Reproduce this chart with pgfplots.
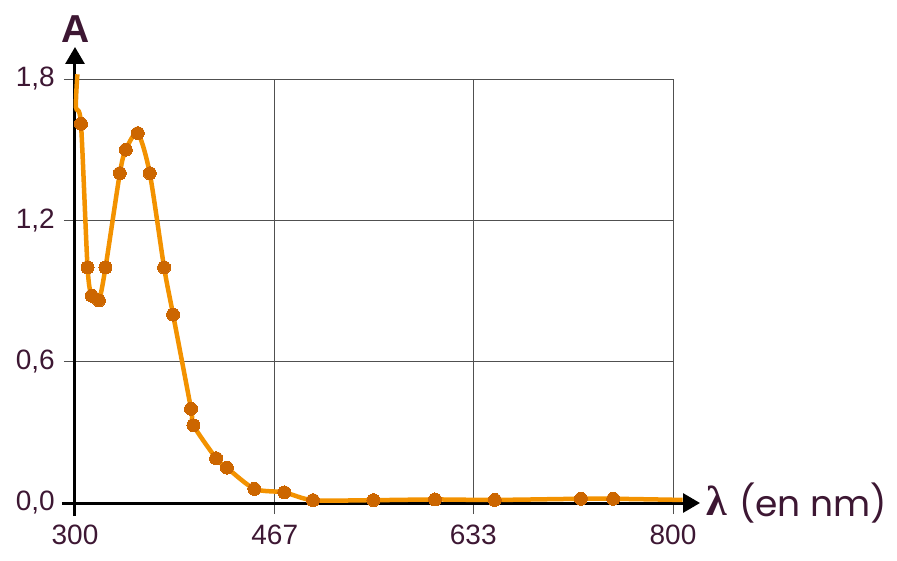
\documentclass[border=0pt]{standalone}
\usepackage{pgfplots}
\pgfplotsset{compat=1.18}
\usepackage{fontspec}
\setmainfont{Liberation Sans}
\newfontfamily\popfont{Poppins}
\newfontfamily\serifbold{Liberation Serif}
\usetikzlibrary{arrows.meta}
\definecolor{txt}{RGB}{61,23,51}
\definecolor{lineor}{RGB}{243,146,0}
\definecolor{markor}{RGB}{204,102,0}
\definecolor{gridc}{RGB}{80,80,80}
\begin{document}
\begin{tikzpicture}
\useasboundingbox (-75pt,-57pt) rectangle (822pt,503pt);
\begin{axis}[
  at={(0,0)}, anchor=south west,
  scale only axis, width=598pt, height=424pt,
  xmin=300, xmax=800, ymin=0, ymax=1.8,
  clip=false,
  axis line style={gridc, line width=0.8pt},
  xtick={300,467,633,800}, xticklabels={300,467,633,800},
  ytick={0,0.6,1.2,1.8}, yticklabels={{0,0},{0,6},{1,2},{1,8}},
  xtick pos=left, ytick pos=left,
  grid=major, major grid style={gridc, line width=0.8pt},
  tick align=outside, major tick length=11pt,
  tick style={gridc, line width=0.8pt},
  ticklabel style={font=\fontsize{28}{28}\selectfont, text=txt},
  xticklabel style={anchor=north, inner sep=0pt, yshift=-11pt},
  yticklabel style={anchor=east, inner sep=0pt, xshift=-9pt},
]
\draw[black, line width=3pt, -{Triangle[length=17pt,width=19pt]}] ([xshift=-13pt]axis cs:300,0) -- ([xshift=625pt]axis cs:300,0);
\draw[black, line width=3pt, -{Triangle[length=17pt,width=19pt]}] ([yshift=-13pt]axis cs:300,0) -- ([yshift=456pt]axis cs:300,0);
\addplot[lineor, line width=4.5pt, smooth, tension=0.45, no marks] coordinates {
(302,1.82) (300.8,1.68) (305,1.61) (310.5,1.0) (314,0.88) (320,0.86) (325.5,1.0)
(337.5,1.4) (342.5,1.5) (352.5,1.57) (362.5,1.4) (374.5,1.0) (382,0.8)
(397,0.4) (399,0.33) (418,0.19) (427,0.15) (450,0.06) (475,0.045)
(499,0.012) (549.5,0.012) (601,0.015) (651,0.013) (723,0.018) (750,0.018) (808,0.013)
};
\addplot[markor, only marks, mark=*, mark size=6.5pt, mark options={draw=markor, fill=markor, line width=0pt}] coordinates {
(305,1.61) (310.5,1.0) (314,0.88) (320,0.86) (325.5,1.0)
(337.5,1.4) (342.5,1.5) (352.5,1.57) (362.5,1.4) (374.5,1.0) (382,0.8)
(397,0.4) (399,0.33) (418,0.19) (427,0.15) (450,0.06) (475,0.045)
(499,0.012) (549.5,0.012) (601,0.015) (651,0.013) (723,0.018) (750,0.018)
};
\end{axis}
\node[anchor=base, inner sep=0pt, text=txt, font=\bfseries\fontsize{39}{39}\selectfont] at (1pt,460pt) {A};
\node[anchor=base west, inner sep=0pt, text=txt, font=\serifbold\bfseries\fontsize{42}{42}\selectfont] at (631pt,-12pt) {λ};
\node[anchor=base west, inner sep=0pt, text=txt, font=\popfont\fontsize{36}{36}\selectfont] at (664pt,-13pt) {(en nm)};
\end{tikzpicture}
\end{document}
